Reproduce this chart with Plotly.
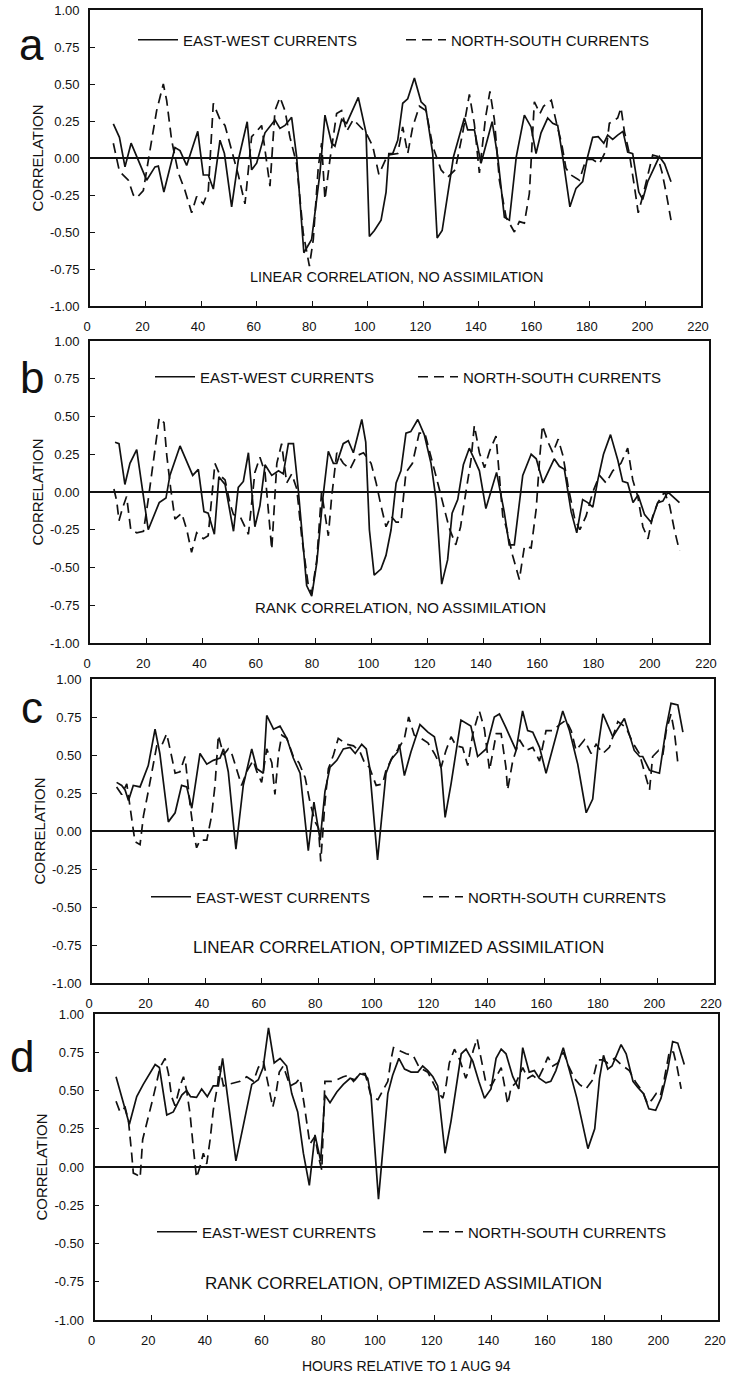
import plotly.graph_objects as go

# ---------------- data ----------------
X_TICKS = list(range(0, 221, 20))
Y_TICKS = [1.0, 0.75, 0.5, 0.25, 0.0, -0.25, -0.5, -0.75, -1.0]
Y_TICK_TEXT = ["1.00", "0.75", "0.50", "0.25", "0.00", "-0.25", "-0.50", "-0.75", "-1.00"]
SERIES_NAMES = ["EAST-WEST CURRENTS", "NORTH-SOUTH CURRENTS"]
PANEL_LETTERS = ["a", "b", "c", "d"]
PANEL_CAPTIONS = [
    "LINEAR CORRELATION, NO ASSIMILATION",
    "RANK CORRELATION, NO ASSIMILATION",
    "LINEAR CORRELATION, OPTIMIZED ASSIMILATION",
    "RANK CORRELATION, OPTIMIZED ASSIMILATION",
]
X_TITLE = "HOURS RELATIVE TO 1 AUG 94"
Y_TITLE = "CORRELATION"

# (hour, correlation)
A_EW = [(8.4,0.23),(10.6,0.14),(12.6,-0.06),(14.8,0.10),(20.4,-0.15),(23.4,-0.06),(24.6,-0.055),(26.6,-0.23),
        (30.6,0.07),(32.4,0.05),(34.8,-0.05),(38.8,0.18),(40.8,-0.115),(42.6,-0.115),(44.4,-0.21),(46.8,0.12),
        (48.4,0.03),(51,-0.33),(53.4,-0.015),(56.6,0.245),(58.2,-0.08),(60,-0.035),(63,0.17),(66.6,0.257),
        (68.4,0.20),(70.2,0.22),(72.6,0.275),(74.4,0.01),(77,-0.64),(79.8,-0.55),(82.8,-0.10),(84.6,0.29),
        (87,0.10),(88.2,0.08),(90.6,0.26),(92.4,0.234),(96.6,0.41),(99.4,0.17),(100.6,-0.53),(102.4,-0.49),
        (104.8,-0.42),(106.6,-0.23),(107.6,0.03),(109,0.03),(110.8,0.12),(112.6,0.37),(114.4,0.40),(116.8,0.54),
        (119.2,0.38),(120.8,0.35),(123.4,0.03),(125,-0.54),(126.8,-0.49),(128.8,-0.24),(130.9,0.01),(134.8,0.27),
        (136,0.19),(138.4,0.19),(140.8,-0.036),(144.8,0.245),(146.8,0.01),(149.2,-0.40),(151,-0.42),(153.5,0.01),
        (156.4,0.29),(158.8,0.21),(160.6,0.03),(162.4,0.17),(164.8,0.27),(166.6,0.234),(168.4,0.22),(170.2,0.01),
        (172.8,-0.33),(175,-0.205),(177.4,-0.16),(179.2,0.01),(181,0.14),(183,0.144),(185,0.10),(186.4,0.155),
        (188.2,0.126),(190,0.155),(191.9,0.18),(193.6,0.04),(195.4,0.03),(197.6,-0.23),(199,-0.28),(200.8,-0.16),
        (205,0.01),(206.9,-0.04),(209.2,-0.16)]
A_NS = [(8.4,0.10),(10.6,-0.09),(13.8,-0.15),(15.6,-0.25),(16.8,-0.27),(19.2,-0.22),(21.4,0.03),(24,0.32),
        (26.4,0.50),(27.6,0.39),(29.4,0.12),(31.8,-0.10),(34.2,-0.22),(36.6,-0.37),(38.4,-0.26),(40.8,-0.31),
        (42.6,-0.22),(44.4,0.37),(46.8,0.26),(48.6,0.22),(51.6,0.01),(53.4,-0.115),(55.8,-0.31),(58.2,0.144),
        (60,0.18),(61.8,0.22),(64.8,-0.19),(66.6,0.32),(68.4,0.41),(70.2,0.32),(72,0.14),(74.4,-0.04),
        (76.8,-0.51),(79,-0.73),(80.4,-0.55),(82.2,-0.06),(83.4,0.10),(84.6,-0.28),(86.4,-0.01),(88.8,0.30),
        (90.6,0.32),(92.4,0.18),(94.8,0.26),(99.4,0.17),(101.8,0.08),(104,-0.11),(107.2,0.02),(110.8,0.03),
        (112.6,0.21),(114.4,0.03),(116.2,0.21),(118.6,0.35),(121,0.32),(123.4,0.08),(126.4,-0.08),(128.8,-0.13),
        (131.5,-0.08),(134.2,0.17),(136.6,0.43),(138.4,0.23),(140.2,-0.10),(142.4,0.27),(144,0.45),(145.6,0.26),
        (147.4,-0.15),(149.8,-0.40),(152.8,-0.50),(154.6,-0.43),(156.4,-0.44),(158.2,-0.24),(160,0.38),(162,0.30),
        (163.3,0.35),(166.1,0.39),(168,0.234),(169.8,0.10),(171.4,-0.07),(173.2,-0.115),(176.2,-0.15),(178.6,-0.01),
        (181,-0.01),(183.4,-0.04),(185.8,0.05),(187,0.234),(190,0.27),(191.2,0.34),(192.4,0.18),(194.2,0.03),
        (196,-0.19),(197.4,-0.37),(199,-0.26),(200.8,-0.13),(202.6,0.02),(204.4,0.01),(206,-0.10),(207.5,-0.24),
        (209.2,-0.42)]

B_EW = [(8.9,0.33),(10.3,0.32),(12.4,0.05),(14.2,0.19),(16.6,0.28),(18.7,0.0),(20.7,-0.25),(24.6,-0.07),
        (27,-0.04),(28.4,0.11),(32,0.305),(36.5,0.11),(38.5,0.15),(40.5,-0.13),(42,-0.14),(44.2,-0.28),
        (45.8,0.10),(48,0.05),(49,-0.05),(51,-0.26),(52.7,0.03),(54.5,0.07),(56.3,0.26),(58.6,-0.23),
        (60.4,-0.09),(62.2,0.18),(64.6,0.11),(67,0.14),(68.7,0.12),(70.5,0.32),(72.3,0.32),(74,0.02),
        (77,-0.62),(78.8,-0.69),(80.6,-0.47),(82.7,-0.05),(84.7,0.27),(86.5,0.19),(87.7,0.19),(90,0.32),
        (91.8,0.34),(93.6,0.26),(96.6,0.48),(98,0.33),(99.3,-0.25),(101,-0.55),(103.4,-0.51),(105.2,-0.42),
        (107,-0.25),(108.8,0.06),(110.5,0.14),(112.3,0.39),(114,0.40),(116.5,0.48),(118.8,0.38),(121.2,0.19),
        (123,-0.05),(125,-0.61),(127.1,-0.45),(128.7,-0.14),(130.7,-0.05),(132.7,0.18),(134.8,0.29),(138.4,0.14),
        (140.7,-0.11),(144.5,0.13),(147.2,-0.13),(149,-0.35),(150.8,-0.35),(153.8,0.11),(156.8,0.25),(158.6,0.22),
        (161,0.06),(165,0.22),(166.8,0.17),(168.6,0.15),(171,-0.13),(173,-0.27),(175.1,-0.05),(176.9,-0.07),
        (178.7,-0.10),(180.5,0.08),(182.5,0.25),(185,0.38),(187.6,0.21),(189.3,0.07),(191.1,0.06),(193,-0.07),
        (194.8,-0.02),(197.1,-0.15),(199.4,-0.20),(201.8,-0.07),(203.6,-0.06),(205.4,0.0),(209.5,-0.07)]
B_NS = [(8.5,0.02),(9.5,-0.06),(10.3,-0.19),(11.5,-0.11),(13,-0.03),(14.5,-0.25),(16.6,-0.27),(19,-0.26),
        (20.7,-0.05),(22.5,0.19),(24.6,0.49),(26.3,0.46),(27.3,0.24),(28.7,0.02),(30.2,-0.18),(32.6,-0.14),
        (34.4,-0.25),(36.1,-0.40),(37.9,-0.27),(40.3,-0.31),(42,-0.29),(44.4,0.19),(46.2,0.11),(48,0.08),
        (49.8,-0.08),(51,-0.15),(53.3,-0.16),(56.3,-0.28),(58.6,0.13),(60.4,0.23),(62.2,0.13),(64.6,-0.38),
        (66.4,0.19),(68.1,0.32),(69.9,0.06),(71.7,0.12),(73.5,0.02),(75.2,-0.29),(77.6,-0.62),(78.8,-0.67),
        (80.6,-0.45),(82.3,0.0),(83.5,-0.16),(84.7,-0.29),(85.9,-0.03),(87.7,0.26),(90,0.19),(92.4,0.15),
        (94.8,0.24),(97.2,0.26),(99.9,0.19),(101.7,0.06),(103.4,-0.09),(105.2,-0.23),(107,-0.16),(108.8,-0.20),
        (110.5,-0.20),(112.3,0.13),(114.6,0.19),(117,0.39),(119,0.39),(121.2,0.24),(123.6,0.06),(125.9,-0.11),
        (127.7,-0.24),(130,-0.35),(131.7,-0.23),(133.6,0.0),(135.4,0.21),(136.6,0.44),(138.4,0.26),(140.2,0.16),
        (142,0.27),(144.3,0.37),(145.5,0.13),(146.7,-0.16),(147.9,-0.23),(150.2,-0.42),(152.6,-0.58),(154.4,-0.36),
        (156.8,-0.37),(158.6,-0.11),(159.8,0.22),(160.8,0.44),(162.8,0.33),(164.5,0.26),(166.4,0.35),(168.1,0.24),
        (169.9,0.04),(172.3,-0.18),(174.1,-0.25),(176.3,-0.16),(178.7,0.0),(181.1,0.11),(183.4,0.06),(185.8,0.14),
        (188.7,0.19),(191.1,0.29),(192.9,0.08),(194.7,-0.03),(196.5,-0.23),(198.3,-0.31),(200,-0.16),(201.8,-0.07),
        (204.2,0.0),(206,-0.09),(207.7,-0.25),(209.5,-0.39)]

C_EW = [(8.7,0.32),(10.5,0.30),(11.7,0.27),(12.9,0.20),(14.6,0.30),(17,0.29),(19.9,0.43),(22.3,0.67),
        (24,0.51),(27,0.06),(29.4,0.12),(31.7,0.30),(33.5,0.29),(35.3,0.15),(38.2,0.51),(40.6,0.44),
        (42.9,0.465),(45.3,0.48),(46.5,0.54),(48.2,0.39),(50.9,-0.12),(53.5,0.30),(56.5,0.54),(58.3,0.41),
        (60.6,0.38),(61.8,0.76),(64.2,0.67),(66.5,0.69),(68.9,0.61),(71.2,0.48),(73.6,0.38),(76.5,-0.13),
        (78.5,0.19),(80.7,-0.06),(82.4,0.26),(84.2,0.42),(86.6,0.465),(88.9,0.54),(91.3,0.55),(93.1,0.51),
        (95.4,0.57),(97,0.54),(98.1,0.43),(101,-0.19),(104,0.38),(105.8,0.47),(108.1,0.52),(108.7,0.57),
        (110.5,0.365),(112.8,0.52),(116,0.70),(118.8,0.65),(121.1,0.62),(123.5,0.41),(124.9,0.09),(127,0.31),
        (130.5,0.73),(134,0.69),(136.4,0.49),(139.4,0.54),(142.3,0.75),(144.1,0.77),(146.4,0.68),(150,0.53),
        (152.3,0.79),(154.1,0.66),(155.9,0.65),(158.3,0.55),(160.6,0.38),(164.2,0.62),(166.5,0.79),(168.9,0.66),
        (171.8,0.44),(174.8,0.12),(177.1,0.21),(178.9,0.54),(180.7,0.77),(184.2,0.62),(188.3,0.74),(191.8,0.53),
        (193.7,0.49),(194.8,0.49),(197.2,0.40),(200.7,0.38),(203.1,0.68),(204.8,0.84),(207.2,0.83),(209,0.65)]
C_NS = [(8.7,0.29),(10.5,0.24),(12.3,0.31),(13.4,0.17),(14.4,0.01),(15.2,-0.07),(17,-0.09),(18.2,0.10),
        (19.9,0.26),(21.7,0.45),(22.9,0.56),(24.6,0.56),(26.4,0.64),(27.6,0.54),(29.4,0.38),(31.1,0.39),
        (32.9,0.49),(34.7,0.17),(36.1,-0.03),(37,-0.11),(38.2,-0.06),(40.6,-0.06),(42.3,0.10),(43.5,0.30),
        (44.7,0.63),(46.5,0.50),(48.2,0.54),(49.6,0.50),(51.2,0.41),(52.9,0.30),(55,0.40),(57,0.465),
        (58.3,0.39),(60,0.32),(61.8,0.54),(63.6,0.45),(64.7,0.24),(66,0.51),(67.1,0.63),(68.9,0.61),
        (71.2,0.49),(73.2,0.45),(75.4,0.35),(77.1,0.19),(78.9,0.06),(80.1,0.02),(80.9,-0.20),(82.4,0.19),
        (83.6,0.41),(85.4,0.50),(87.1,0.61),(90.1,0.57),(92.5,0.56),(94.8,0.52),(96.6,0.44),(98.1,0.42),
        (100.5,0.30),(102.8,0.31),(104,0.40),(106.4,0.49),(108.7,0.55),(110.5,0.61),(112,0.75),(114,0.63),
        (116.4,0.61),(118.8,0.58),(121.1,0.51),(123.5,0.42),(125.2,0.53),(127,0.62),(128.8,0.56),(131.1,0.55),
        (132.9,0.43),(134.7,0.64),(137,0.79),(138.8,0.67),(140.6,0.40),(143,0.64),(144.7,0.64),(146.4,0.42),
        (147,0.27),(148.8,0.46),(151.2,0.60),(153.5,0.53),(155.9,0.55),(158.3,0.46),(160.6,0.66),(163,0.66),
        (165.4,0.70),(167.7,0.73),(169.5,0.66),(171.2,0.53),(174.2,0.60),(176.5,0.51),(178.3,0.57),(180.7,0.51),
        (183,0.55),(186,0.72),(188.9,0.68),(191.3,0.58),(193.6,0.51),(196,0.35),(197.2,0.27),(198.3,0.49),
        (200.4,0.53),(201.9,0.50),(203.1,0.66),(204.8,0.77),(206,0.65),(207.2,0.45)]

D_EW = [(7.6,0.59),(9.6,0.46),(10.8,0.39),(12.3,0.28),(14.9,0.46),(17.2,0.54),(21.4,0.67),(22.9,0.65),
        (25.5,0.34),(27.8,0.36),(30.8,0.47),(32.5,0.50),(33.9,0.46),(36,0.455),(37.8,0.51),(39.8,0.46),
        (41.9,0.53),(43.7,0.53),(45.2,0.71),(49.9,0.04),(52.5,0.27),(55.5,0.54),(57.8,0.57),(59.5,0.65),
        (61.4,0.91),(63.4,0.68),(65.5,0.71),(67.8,0.66),(69.6,0.48),(71.7,0.36),(73.7,0.09),(75.8,-0.12),
        (77.8,0.21),(79.8,0.04),(81.3,0.47),(83.1,0.42),(85.5,0.49),(87.8,0.54),(90.2,0.58),(91.9,0.57),
        (93.7,0.61),(95.5,0.60),(96.4,0.58),(97.6,0.46),(100.2,-0.21),(103.5,0.48),(105.2,0.60),(107.4,0.71),
        (109.4,0.64),(111.7,0.62),(114.1,0.62),(115.8,0.66),(117.6,0.63),(119.4,0.59),(121.1,0.53),(123.7,0.09),
        (125.8,0.30),(127.6,0.52),(129.4,0.74),(131.1,0.77),(133.5,0.69),(135.6,0.56),(137.6,0.45),(139.9,0.51),
        (141.7,0.71),(143.5,0.77),(145.2,0.74),(147.6,0.59),(149.7,0.51),(151.1,0.78),(153.4,0.62),(155.2,0.63),
        (156.9,0.58),(159.3,0.55),(161,0.56),(162.8,0.63),(165.4,0.78),(167.6,0.63),(170.2,0.45),(172.1,0.29),
        (174.1,0.12),(176.5,0.25),(178.2,0.58),(179.6,0.73),(181.1,0.64),(182.6,0.66),(185.8,0.80),(187.6,0.74),
        (190,0.56),(191.7,0.52),(193.7,0.48),(195.6,0.38),(198,0.37),(199.9,0.45),(202.3,0.64),(204,0.82),
        (205.8,0.81),(208.1,0.67)]
D_NS = [(7.6,0.43),(9,0.36),(10.8,0.39),(12,0.30),(13.1,0.09),(13.7,-0.04),(14.9,-0.05),(16.1,-0.07),
        (17,0.18),(18.4,0.28),(20.5,0.44),(21.9,0.55),(23.1,0.65),(24.9,0.71),(26.1,0.61),(27.2,0.46),
        (28.4,0.40),(30.2,0.53),(31.4,0.59),(32.5,0.50),(33.7,0.35),(34.9,0.12),(36,-0.07),(37.2,0.0),
        (38.4,0.09),(39.6,0.02),(40.8,0.18),(41.9,0.37),(43.4,0.53),(44.1,0.66),(45.5,0.53),(47.2,0.54),
        (49,0.55),(51.4,0.56),(53.7,0.59),(56.1,0.56),(57.8,0.65),(59.6,0.69),(61.4,0.53),(62.9,0.39),
        (64.1,0.49),(65.2,0.62),(66.6,0.66),(69,0.53),(71.1,0.55),(72.5,0.58),(73.9,0.42),(76,0.15),
        (77.8,0.20),(79,0.07),(80.2,-0.02),(81.3,0.56),(83.7,0.56),(85.5,0.57),(87.8,0.59),(89.6,0.60),
        (91.4,0.56),(93.7,0.61),(95.5,0.61),(97.6,0.46),(100,0.44),(103.5,0.56),(104.6,0.70),(105.5,0.78),
        (107.6,0.76),(110,0.74),(112.4,0.73),(114.6,0.65),(117.6,0.62),(119.4,0.55),(121.1,0.49),(122.9,0.45),
        (124.1,0.54),(125.2,0.68),(127,0.77),(128.9,0.70),(131,0.58),(132.4,0.65),(133.6,0.76),(135,0.84),
        (136.4,0.71),(138,0.56),(140,0.53),(141.9,0.60),(143.5,0.65),(144.6,0.54),(145.8,0.41),(147,0.52),
        (148.7,0.55),(151.1,0.65),(152.9,0.58),(154.6,0.60),(156.4,0.57),(158.2,0.64),(160,0.72),(161.7,0.66),
        (163.5,0.68),(165.5,0.75),(167.3,0.66),(169.3,0.58),(171.1,0.54),(173.4,0.51),(175.8,0.57),(177.5,0.70),
        (179.3,0.70),(181.1,0.68),(183.5,0.71),(185.8,0.67),(188.7,0.63),(191.1,0.55),(193.5,0.49),(195.2,0.41),
        (196.7,0.44),(198.2,0.48),(199.6,0.46),(201.1,0.58),(202.9,0.76),(204.3,0.75),(205.6,0.65),(207,0.51)]

PANEL_DATA = [(A_EW, A_NS), (B_EW, B_NS), (C_EW, C_NS), (D_EW, D_NS)]

# ---------------- layout (pixel geometry) ----------------
W, H = 732, 1378
FONT = "Liberation Sans, Arial, Helvetica, sans-serif"
INK = "#111111"
BOXES = [(90, 701, 10, 306), (90, 709, 341, 643), (92, 714, 679, 983), (94.5, 718, 1014, 1320)]
# legend: (first text start x, second text start x, row centre y)
LEGEND_POS = [(183, 451, 40), (200, 463, 377), (196, 468, 897), (202, 468, 1232)]
LETTER_POS = [(31, 44), (32, 378), (31.5, 707), (22, 1056)]
CAPTION_POS = [(397, 277, 14.5), (400, 607, 15), (398, 947, 17), (403, 1283, 17)]

fig = go.Figure()
for i, (ew, ns) in enumerate(PANEL_DATA):
    k = "" if i == 0 else str(i + 1)
    for series, name, dash in ((ew, SERIES_NAMES[0], "solid"), (ns, SERIES_NAMES[1], "10px,6px")):
        fig.add_trace(go.Scatter(
            x=[p[0] for p in series], y=[p[1] for p in series], mode="lines", name=name,
            line=dict(color=INK, width=1.7, dash=dash),
            xaxis="x" + k, yaxis="y" + k, legend="legend" + k, showlegend=True,
        ))

layout = dict(
    width=W, height=H, margin=dict(l=0, r=0, t=0, b=0),
    paper_bgcolor="white", plot_bgcolor="white",
    font=dict(family=FONT, color=INK, size=13),
    annotations=[],
)
for i, (l, r, t, b) in enumerate(BOXES):
    k = "" if i == 0 else str(i + 1)
    xa = dict(domain=[l / W, r / W], range=[0, 220], anchor="y" + k, tickvals=X_TICKS,
              ticks="inside", ticklen=5, tickwidth=1.3, tickcolor=INK,
              showline=True, mirror=True, linecolor=INK, linewidth=1.6,
              showgrid=False, zeroline=False, ticklabelstandoff=8, ticklabelshift=-3,
              ticklabeloverflow="allow", automargin=False,
              tickfont=dict(family=FONT, size=13, color=INK))
    if i == 3:
        xa["title"] = dict(text=X_TITLE, font=dict(family=FONT, size=14, color=INK), standoff=14)
    ya = dict(domain=[1 - b / H, 1 - t / H], range=[-1, 1], anchor="x" + k,
              tickvals=Y_TICKS, ticktext=Y_TICK_TEXT,
              ticks="inside", ticklen=5, tickwidth=1.3, tickcolor=INK,
              showline=True, mirror=True, linecolor=INK, linewidth=1.6,
              showgrid=False, zeroline=True, zerolinecolor=INK, zerolinewidth=1.6,
              ticklabelstandoff=6, ticklabeloverflow="allow", automargin=False,
              tickfont=dict(family=FONT, size=13, color=INK),
              title=dict(text=Y_TITLE, font=dict(family=FONT, size=15, color=INK), standoff=3))
    layout["xaxis" + k] = xa
    layout["yaxis" + k] = ya

    t1, t2, ly = LEGEND_POS[i]
    layout["legend" + k] = dict(
        orientation="h", x=(t1 - 50) / W, y=1 - ly / H, xanchor="left", yanchor="middle",
        entrywidth=(t2 - t1) - 55, entrywidthmode="pixels", itemwidth=40,
        font=dict(family=FONT, size=15, color=INK), bgcolor="rgba(0,0,0,0)",
    )

    cx, cy = LETTER_POS[i]
    layout["annotations"].append(dict(
        text=PANEL_LETTERS[i], x=cx / W, y=1 - cy / H, xref="paper", yref="paper",
        xanchor="center", yanchor="middle", showarrow=False,
        font=dict(family=FONT, size=44, color=INK)))
    px, py, fs = CAPTION_POS[i]
    layout["annotations"].append(dict(
        text=PANEL_CAPTIONS[i], x=px / W, y=1 - py / H, xref="paper", yref="paper",
        xanchor="center", yanchor="middle", showarrow=False,
        font=dict(family=FONT, size=fs, color=INK)))

fig.update_layout(**layout)
fig.write_html(
    "out.html",
    config={"displayModeBar": False},
    post_script="document.body.style.margin='0';document.body.style.overflow='hidden';"
                "document.documentElement.style.overflow='hidden';",
)
